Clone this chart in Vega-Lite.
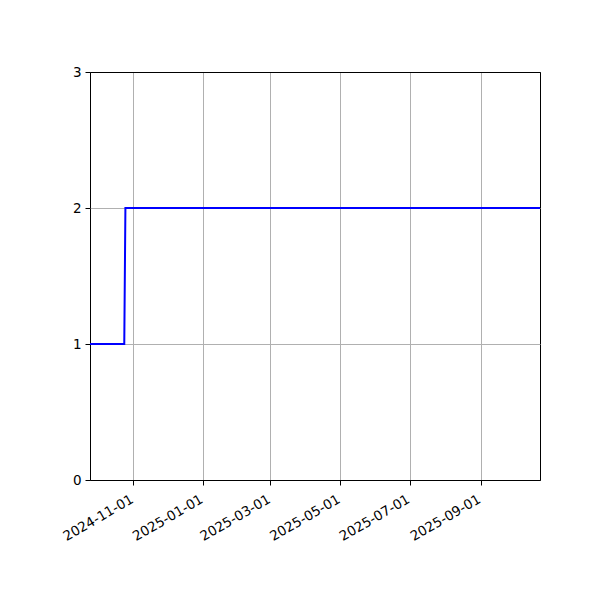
{
  "$schema": "https://vega.github.io/schema/vega-lite/v6.json",
  "width": 450, "height": 408,
  "autosize": {"type": "none"},
  "padding": {"left": 90, "top": 72, "right": 60, "bottom": 120},
  "background": "white",
  "config": {
    "view": {"stroke": "black", "strokeWidth": 1},
    "font": "DejaVu Sans",
    "axis": {
      "labelFont": "DejaVu Sans", "labelFontSize": 13.5, "labelColor": "black",
      "tickColor": "black", "tickSize": 5, "labelPadding": 4,
      "domain": false, "gridColor": "#b0b0b0", "gridWidth": 1, "title": null,
      "labelOverlap": false
    }
  },
  "data": {
    "values": [
      {"date": "2024-09-24", "count": 1},
      {"date": "2024-10-24", "count": 1},
      {"date": "2024-10-25", "count": 2},
      {"date": "2025-10-23", "count": 2}
    ]
  },
  "mark": {"type": "line", "color": "#0000ff", "strokeWidth": 2, "clip": true},
  "encoding": {
    "x": {
      "field": "date", "type": "temporal",
      "scale": {
        "type": "utc",
        "domain": [
          {"year": 2024, "month": 9, "date": 24, "utc": true},
          {"year": 2025, "month": 10, "date": 23, "utc": true}
        ]
      },
      "axis": {
        "labelExpr": "utcFormat(datum.value, '%Y-%m-%d')",
        "labelAngle": -30, "labelAlign": "right", "labelBaseline": "top",
        "labelOffset": -5, "labelPadding": 7,
        "values": [
          {"year": 2024, "month": 11, "date": 1, "utc": true},
          {"year": 2025, "month": 1, "date": 1, "utc": true},
          {"year": 2025, "month": 3, "date": 1, "utc": true},
          {"year": 2025, "month": 5, "date": 1, "utc": true},
          {"year": 2025, "month": 7, "date": 1, "utc": true},
          {"year": 2025, "month": 9, "date": 1, "utc": true}
        ]
      }
    },
    "y": {
      "field": "count", "type": "quantitative",
      "scale": {"domain": [0, 3], "nice": false, "zero": false},
      "axis": {
        "values": [0, 1, 2, 3], "format": "d",
        "gridColor": {"condition": {"test": "datum.value == 0 || datum.value == 3", "value": "black"}, "value": "#b0b0b0"}
      }
    }
  }
}
